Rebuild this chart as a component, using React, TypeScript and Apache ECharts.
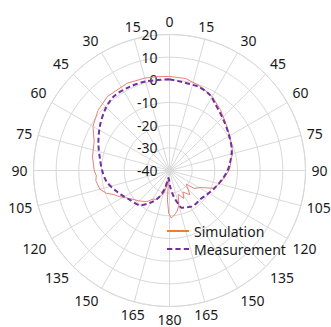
import React, { useEffect, useRef } from "react";
import * as echarts from "echarts";

// angle (deg, clockwise from top) and gain (dB)
const simAngles = [0, 10, 20, 30, 40, 50, 60, 70, 76, 80, 85, 90, 97, 104, 112, 119, 126, 129, 140, 148, 153, 160, 165, 170, 175, 178, 181, 184, 187, 190, 194, 198, 205, 210, 216, 225, 235, 242, 247, 250, 255, 262, 266, 270, 280, 291, 300, 310, 320, 334, 345, 353, 360];
const simValues = [1.5, 1.2, -0.4, -2.3, -5.0, -7.6, -9.3, -10.6, -11.4, -12.6, -13.0, -13.8, -15.5, -17.0, -19.1, -24.5, -26.5, -30.5, -26.0, -28.8, -26.2, -28.8, -24.0, -21.5, -19.8, -19.1, -21.0, -27.0, -36.7, -33.0, -29.5, -28.5, -25.8, -25.5, -23.0, -21.0, -18.5, -15.3, -13.0, -10.5, -8.2, -7.2, -7.6, -6.8, -5.5, -4.4, -1.0, 1.2, 2.6, 2.8, 2.2, 1.7, 1.5];

const measAngles = [0, 19, 28, 34, 47, 58, 72, 83, 90, 100, 113, 123, 133, 140, 148, 155, 162, 165, 171, 178, 187, 194, 202, 211, 220, 233, 244, 250, 260, 270, 280, 291, 302, 313, 323, 335, 346, 360];
const measValues = [0.3, -0.9, -2.2, -4.2, -7.4, -9.3, -11.1, -13.1, -14.4, -16.5, -18.9, -20.4, -21.4, -21.3, -21.3, -22.1, -22.7, -24.5, -28.5, -33.0, -36.7, -32.0, -27.0, -23.4, -20.0, -18.3, -16.0, -14.5, -11.8, -10.3, -8.8, -6.4, -3.7, -1.0, 0.9, 0.9, 0.6, 0.3];

const radiusTicks = [-40, -30, -20, -10, 0, 10, 20];
const seriesNames = ["Simulation", "Measurement"];

export default function App() {
  const ref = useRef<HTMLDivElement>(null);
  useEffect(() => {
    if (!ref.current) return;
    const chart = echarts.init(ref.current, null, { renderer: "svg" });
    const font = "Noto Sans";
    chart.setOption({
      animation: false,
      polar: { center: [169.5, 170.5], radius: 136 },
      angleAxis: {
        type: "value",
        min: 0,
        max: 360,
        interval: 15,
        startAngle: 90,
        clockwise: true,
        axisLine: { show: true, lineStyle: { color: "#d9d9d9", width: 1 } },
        axisTick: { show: false },
        splitLine: { show: true, lineStyle: { color: "#d9d9d9", width: 1 } },
        axisLabel: {
          margin: 6,
          fontFamily: font,
          fontSize: 14,
          color: "#1a1a1a",
          formatter: (v: number) => (v >= 360 ? "" : String(v > 180 ? 360 - v : v)),
        },
      },
      radiusAxis: {
        type: "value",
        min: radiusTicks[0],
        max: radiusTicks[radiusTicks.length - 1],
        interval: 10,
        axisLine: { show: false },
        axisTick: { show: false },
        splitLine: { show: true, lineStyle: { color: "#d9d9d9", width: 1 } },
        axisLabel: {
          fontFamily: font,
          fontSize: 14,
          color: "#1a1a1a",
          margin: 12,
        },
      },
      legend: {
        orient: "vertical",
        left: 162,
        top: 219,
        itemWidth: 22,
        itemHeight: 2,
        itemGap: 4,
        symbolKeepAspect: false,
        textStyle: { fontFamily: font, fontSize: 14, color: "#1a1a1a" },
        data: [
          {
            name: seriesNames[0],
            icon: "path://M0,0H22V2H0Z",
            itemStyle: { color: "#ED7D31" },
          },
          {
            name: seriesNames[1],
            icon: "path://M0,0H5V2H0Z M8,0H13V2H8Z M16,0H21V2H16Z",
            itemStyle: { color: "#7030A0" },
          },
        ],
      },
      series: [
        {
          name: seriesNames[0],
          type: "line",
          coordinateSystem: "polar",
          symbol: "none",
          smooth: false,
          lineStyle: { color: "#e8807a", width: 1 },
          itemStyle: { color: "#ED7D31" },
          data: simAngles.map((a, i) => [simValues[i], a]),
          z: 2,
        },
        {
          name: seriesNames[1],
          type: "line",
          coordinateSystem: "polar",
          symbol: "none",
          smooth: 0.3,
          lineStyle: { color: "#7030A0", width: 2, type: [5, 3] },
          itemStyle: { color: "#7030A0" },
          data: measAngles.map((a, i) => [measValues[i], a]),
          z: 3,
        },
      ],
    });
    return () => chart.dispose();
  }, []);
  return (
    <div
      ref={ref}
      style={{ position: "fixed", left: 0, top: 0, width: 331, height: 327, background: "#fff" }}
    />
  );
}
